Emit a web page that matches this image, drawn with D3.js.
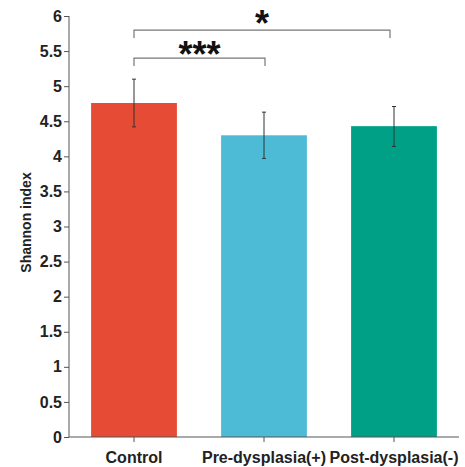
<!DOCTYPE html>
<html>
<head>
<meta charset="utf-8">
<script src="https://cdn.jsdelivr.net/npm/d3@7"></script>
<style>
body { margin: 0; background: #fff; }
svg { font-family: "Liberation Sans", Arial, sans-serif; }
</style>
</head>
<body>
<svg width="465" height="467"></svg>
<script>
// data
const groups = ['Control', 'Pre-dysplasia(+)', 'Post-dysplasia(-)'];
const means = [4.76, 4.30, 4.43];
const errLow = [4.42, 3.97, 4.14];
const errHigh = [5.10, 4.63, 4.71];
const colors = ['#E64B35', '#4DBBD5', '#00A087'];
const yTicks = [0, 0.5, 1, 1.5, 2, 2.5, 3, 3.5, 4, 4.5, 5, 5.5, 6];

// significance brackets
const sigFrom = ['Control', 'Control'];
const sigTo = ['Post-dysplasia(-)', 'Pre-dysplasia(+)'];
const sigLabel = ['*', '***'];
const sigY = [5.8, 5.4];

const svg = d3.select('svg');

const xScale = d3.scaleBand().domain(groups).range([69, 459])
    .paddingInner(0.34).paddingOuter(0.17);
const yScale = d3.scaleLinear().domain([0, 6]).range([437, 16]);

const data = groups.map((g, i) => ({g: g, m: means[i], lo: errLow[i], hi: errHigh[i], c: colors[i]}));
const cx = g => xScale(g) + xScale.bandwidth() / 2;

// bars
svg.selectAll('.bar')
    .data(data)
    .enter()
    .append('rect')
    .attr('x', d => xScale(d.g))
    .attr('width', xScale.bandwidth())
    .attr('y', d => yScale(d.m))
    .attr('height', d => yScale(0) - yScale(d.m))
    .attr('fill', d => d.c);

// error bars
const eb = svg.selectAll('.err').data(data).enter().append('g').attr('stroke', '#333').attr('stroke-width', 1);
eb.append('line')
    .attr('x1', d => cx(d.g)).attr('x2', d => cx(d.g))
    .attr('y1', d => yScale(d.lo)).attr('y2', d => yScale(d.hi));
eb.append('line')
    .attr('x1', d => cx(d.g) - 2).attr('x2', d => cx(d.g) + 2)
    .attr('y1', d => yScale(d.hi)).attr('y2', d => yScale(d.hi));
eb.append('line')
    .attr('x1', d => cx(d.g) - 2).attr('x2', d => cx(d.g) + 2)
    .attr('y1', d => yScale(d.lo)).attr('y2', d => yScale(d.lo));

// y axis
const yAxis = svg.append('g')
    .attr('transform', 'translate(69,0)')
    .call(d3.axisLeft(yScale).tickValues(yTicks).tickSize(5).tickPadding(2).tickFormat(d3.format('')));
yAxis.select('.domain').attr('stroke', '#555').attr('d', 'M0,16V437');
yAxis.selectAll('.tick line').attr('stroke', '#555');
yAxis.selectAll('.tick text').attr('fill', '#222').style('font-size', '16px').style('font-weight', 'bold')
    .style('font-family', '"Liberation Sans", Arial, sans-serif');

// x axis
const xAxis = svg.append('g')
    .attr('transform', 'translate(0,437)')
    .call(d3.axisBottom(xScale).tickSize(5).tickPadding(10));
xAxis.select('.domain').attr('stroke', '#555').attr('d', 'M69,0H459');
xAxis.selectAll('.tick line').attr('stroke', '#555');
xAxis.selectAll('.tick text').attr('fill', '#222').style('font-size', '16px').style('font-weight', 'bold')
    .style('font-family', '"Liberation Sans", Arial, sans-serif');

// y label
svg.append('text')
    .attr('transform', 'translate(31,' + ((16 + 437) / 2 - 4) + ') rotate(-90)')
    .attr('text-anchor', 'middle')
    .attr('fill', '#222')
    .style('font-size', '14px')
    .style('font-weight', 'bold')
    .text('Shannon index');

// significance brackets
const endShift = [-4, 1];
const labelDrop = [6, 9];
sigLabel.forEach((lab, i) => {
    const x1 = cx(sigFrom[i]);
    const x2 = cx(sigTo[i]) + endShift[i];
    const y = yScale(sigY[i]);
    svg.append('path')
        .attr('d', 'M' + x1 + ',' + (y + 8) + 'V' + y + 'H' + x2 + 'V' + (y + 8))
        .attr('fill', 'none')
        .attr('stroke', '#777')
        .attr('stroke-width', 1.2);
    svg.append('text')
        .attr('x', (x1 + x2) / 2)
        .attr('y', y + labelDrop[i])
        .attr('text-anchor', 'middle')
        .attr('fill', '#111')
        .style('font-size', '36px')
        .style('font-weight', 'bold')
        .text(lab);
});
</script>
</body>
</html>
